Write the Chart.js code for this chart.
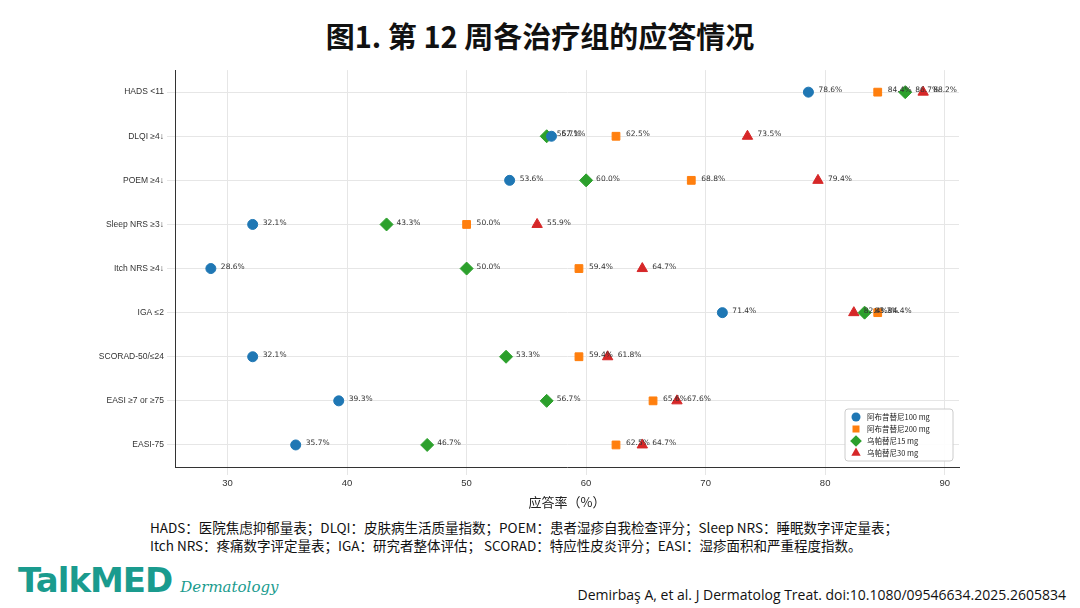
<!DOCTYPE html>
<html><head><meta charset="utf-8">
<script src="https://cdn.jsdelivr.net/npm/chart.js@4"></script>
<style>
body{margin:0;width:1080px;height:608px;background:#fff;font-family:"Noto Sans CJK SC","Noto Sans",sans-serif;position:relative;overflow:hidden}
#t{position:absolute;top:14px;left:0;width:1080px;text-align:center;font-size:29px;font-weight:bold;color:#111}
#c{position:absolute;left:0;top:62px;width:975px;height:452px}
#n{position:absolute;left:150px;top:518px;font-size:13.5px;line-height:18px;color:#111}
#logo{position:absolute;left:18px;top:560px;font-family:"DejaVu Sans";font-weight:bold;font-size:34px;color:#1a9b8e;letter-spacing:-1px}
#logo span{font-family:"DejaVu Serif";font-style:italic;font-weight:normal;font-size:15px;color:#1a9b8e;letter-spacing:0;margin-left:8px}
#cit{position:absolute;right:14px;top:585px;font-size:14px;color:#111;font-family:"Open Sans","Noto Sans",sans-serif}
</style></head><body>
<div id="t">图1. 第 12 周各治疗组的应答情况</div>
<div id="c"><canvas id="cv"></canvas></div>
<div id="n">HADS：医院焦虑抑郁量表；DLQI：皮肤病生活质量指数；POEM：患者湿疹自我检查评分；Sleep NRS：睡眠数字评定量表；<br>Itch NRS：疼痛数字评定量表；IGA：研究者整体评估； SCORAD：特应性皮炎评分；EASI：湿疹面积和严重程度指数。</div>
<div id="logo">TalkMED<span>Dermatology</span></div>
<div id="cit">Demirbaş A, et al. J Dermatolog Treat. doi:10.1080/09546634.2025.2605834</div>
<script>
const categories=["HADS <11","DLQI ≥4↓","POEM ≥4↓","Sleep NRS ≥3↓","Itch NRS ≥4↓","IGA ≤2","SCORAD-50/≤24","EASI ≥7 or ≥75","EASI-75"];
const abro100=[78.6,57.1,53.6,32.1,28.6,71.4,32.1,39.3,35.7];
const abro200=[84.4,62.5,68.8,50.0,59.4,84.4,59.4,65.6,62.5];
const upa15=[86.7,56.7,60.0,43.3,50.0,83.3,53.3,56.7,46.7];
const upa30=[88.2,73.5,79.4,55.9,64.7,82.4,61.8,67.6,64.7];
const seriesNames=["阿布昔替尼100 mg","阿布昔替尼200 mg","乌帕替尼15 mg","乌帕替尼30 mg"];
const xTicks=[30,40,50,60,70,80,90];
const colors=["#1f77b4","#ff7f0e","#2ca02c","#d62728"];
const styles=["circle","rect","rectRot","triangle"];
const radii=[5,5.5,6.5,6];
const all=[abro100,abro200,upa15,upa30];
const datasets=all.map((arr,i)=>({label:seriesNames[i],data:arr.map((v,j)=>({x:v,y:categories[j]})),
 pointStyle:styles[i],backgroundColor:colors[i],borderColor:colors[i],pointRadius:radii[i],pointHoverRadius:radii[i],showLine:false}));
const lbl={id:'lbl',afterDatasetsDraw(ch){const c=ch.ctx;c.save();c.font='7.5px "DejaVu Sans"';c.fillStyle='#333';c.textBaseline='bottom';
 ch.data.datasets.forEach((d,i)=>{ch.getDatasetMeta(i).data.forEach((p,j)=>{c.fillText(d.data[j].x.toFixed(1)+'%',p.x+10,p.y+2);});});
 // legend box
 const a=ch.chartArea,w=108,h=52,x=a.right-w-6,y=a.bottom-h-6;
 c.fillStyle='rgba(255,255,255,0.9)';c.strokeStyle='#ccc';c.lineWidth=1;
 c.beginPath();c.roundRect(x,y,w,h,3);c.fill();c.stroke();
 c.font='7.5px "Noto Sans CJK SC"';c.textBaseline='middle';
 ch.data.datasets.forEach((d,i)=>{const yy=y+8+i*12;
  c.fillStyle=colors[i];Chart.helpers.drawPoint(c,{pointStyle:styles[i],radius:radii[i]*0.9,borderWidth:0},x+11,yy);
  c.fillStyle='#222';c.fillText(d.label,x+22,yy);});
 c.restore();}};
new Chart(document.getElementById('cv'),{type:'scatter',data:{labels:categories,datasets},plugins:[lbl],
options:{responsive:true,maintainAspectRatio:false,animation:false,
 layout:{padding:{top:0,right:16,left:10}},
 plugins:{legend:{display:false},tooltip:{enabled:false}},
 scales:{
  x:{type:'linear',min:25.6,max:91.2,afterBuildTicks(a){a.ticks=xTicks.map(v=>({value:v}));},
   ticks:{font:{size:9.5},color:'#333'},grid:{color:'#e6e6e6'},border:{color:'#333'},
   title:{display:true,text:'应答率（%）',font:{size:13,family:'"Noto Sans CJK SC"'},color:'#222',padding:{top:2}}},
  y:{type:'category',labels:categories,offset:true,ticks:{font:{size:8.5},color:'#333'},
   grid:{color:'#e6e6e6',borderDash:[2,2]},border:{color:'#333'},afterFit(a){a.width=165;}}
 }}});
</script></body></html>
